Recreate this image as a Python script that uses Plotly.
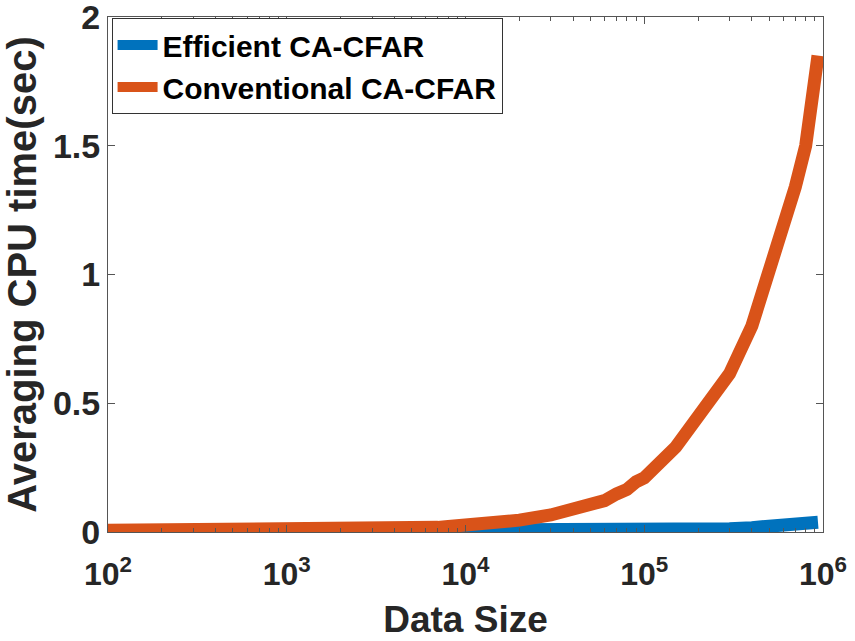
import plotly.graph_objects as go

data_size = [100, 200, 400, 700, 1000, 2000, 3000, 5000, 7000, 8000, 10000,
             15000, 20000, 30000, 40000, 50000, 60000, 70000, 80000, 90000,
             100000, 150000, 200000, 300000, 400000, 500000, 600000,
             700000, 800000, 937500]
efficient = [0.002, 0.002, 0.002, 0.002, 0.002, 0.002, 0.002, 0.003, 0.003, 0.003, 0.003,
             0.003, 0.004, 0.004, 0.004, 0.004, 0.005, 0.005, 0.005, 0.005,
             0.006, 0.007, 0.009, 0.013, 0.017, 0.021, 0.026,
             0.030, 0.032, 0.038]
conventional = [0.007, 0.007, 0.007, 0.007, 0.008, 0.009, 0.011, 0.015, 0.018, 0.021, 0.025,
                0.035, 0.046, 0.066, 0.086, 0.110, 0.122, 0.148, 0.165, 0.195,
                0.210, 0.330, 0.440, 0.615, 0.800, 1.000, 1.180,
                1.340, 1.500, 1.850]

xticks = [100, 1000, 10000, 100000, 1000000]
xticktext = ["<b>10<sup>2</sup></b>", "<b>10<sup>3</sup></b>", "<b>10<sup>4</sup></b>",
             "<b>10<sup>5</sup></b>", "<b>10<sup>6</sup></b>"]
yticks = [0, 0.5, 1, 1.5, 2]
yticktext = ["<b>0</b>", "<b>0.5</b>", "<b>1</b>", "<b>1.5</b>", "<b>2</b>"]
series_names = ["Efficient CA-CFAR", "Conventional CA-CFAR"]

font = "Liberation Sans"
txt = "#262626"
axc = "#555555"

fig = go.Figure()
fig.add_trace(go.Scatter(x=data_size, y=efficient, mode="lines",
                         name="<b>" + series_names[0] + "</b>",
                         line=dict(color="#0072BD", width=13)))
fig.add_trace(go.Scatter(x=data_size, y=conventional, mode="lines",
                         name="<b>" + series_names[1] + "</b>",
                         line=dict(color="#D95319", width=13)))

fig.update_layout(
    width=855, height=641,
    margin=dict(l=108, r=32, t=17, b=109, autoexpand=False),
    paper_bgcolor="white", plot_bgcolor="white",
    font=dict(family=font, color=txt),
    showlegend=True,
    legend=dict(x=0.005, y=0.998, xanchor="left", yanchor="top",
                bgcolor="white", bordercolor="#333333", borderwidth=1,
                font=dict(family=font, size=30, color="black"),
                tracegroupgap=0, itemwidth=40),
    xaxis=dict(type="log", range=[2, 6], tickvals=xticks, ticktext=xticktext,
               ticks="inside", ticklen=7, tickcolor=axc, automargin=False,
               showline=True, linecolor=axc, linewidth=1, mirror="ticks",
               showgrid=False, zeroline=False, ticklabelstandoff=14,
               tickfont=dict(family=font, size=32, color=txt),
               minor=dict(ticks="inside", ticklen=4, tickcolor=axc, dtick="D1", showgrid=False),
               title=dict(text="<b>Data Size</b>", font=dict(family=font, size=37, color=txt),
                          standoff=14)),
    yaxis=dict(range=[0, 2], tickvals=yticks, ticktext=yticktext,
               ticks="inside", ticklen=7, tickcolor=axc, automargin=False,
               showline=True, linecolor=axc, linewidth=1, mirror="ticks",
               showgrid=False, zeroline=False, ticklabeloverflow="allow",
               tickfont=dict(family=font, size=34, color=txt),
               title=dict(text="<b>Averaging CPU time(sec)</b>",
                          font=dict(family=font, size=40, color=txt), standoff=4)),
)

fig.write_html("out.html")
